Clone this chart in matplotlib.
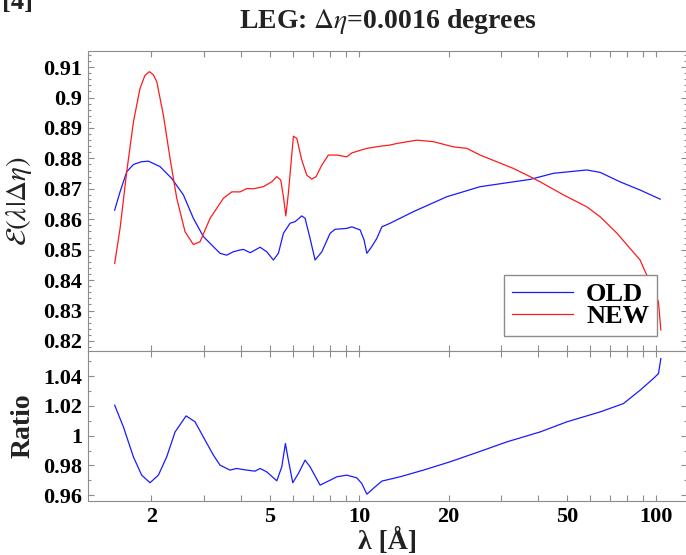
import matplotlib
matplotlib.use('Agg')
import matplotlib.pyplot as plt
from matplotlib.ticker import FixedLocator, FuncFormatter, MultipleLocator, NullLocator

plt.rcParams['font.family'] = ['Liberation Serif', 'DejaVu Serif']
plt.rcParams['mathtext.fontset'] = 'stix'

# OLD efficiency curve
lam_old = [1.504, 1.568, 1.651, 1.739, 1.85, 1.953, 2.138, 2.341, 2.562, 2.768,
           2.991, 3.232, 3.404, 3.585, 3.77, 3.975, 4.079, 4.30, 4.642, 4.889,
           5.146, 5.350, 5.563, 5.858, 6.088, 6.412, 6.58, 6.839, 7.11, 7.49,
           7.99, 8.30, 9.09, 9.45, 10.08, 10.39, 10.62, 11.03, 11.47, 11.93,
           12.72, 15.24, 19.73, 25.55, 33.07, 37.65, 45.1, 58.4, 64.8, 75.6,
           88.3, 103.2]
eff_old = [0.863, 0.869, 0.8756, 0.878, 0.8789, 0.8791, 0.8773, 0.8734, 0.868, 0.8603,
           0.8543, 0.8510, 0.8488, 0.8482, 0.8493, 0.8499, 0.8501, 0.8490, 0.8508, 0.8493,
           0.8466, 0.8488, 0.8554, 0.8587, 0.8592, 0.8611, 0.8603, 0.8537, 0.8466, 0.8493,
           0.8554, 0.8567, 0.857, 0.8575, 0.8565, 0.8532, 0.8488, 0.851, 0.8537, 0.8575,
           0.8587, 0.8625, 0.8674, 0.8707, 0.8723, 0.8731, 0.8751, 0.8762, 0.8754, 0.8723,
           0.8696, 0.8666]

# NEW efficiency curve
lam_new = [1.504, 1.568, 1.651, 1.739, 1.83, 1.90, 1.968, 2.03, 2.084, 2.194,
           2.31, 2.433, 2.595, 2.768, 2.915, 3.15, 3.493, 3.727, 3.975, 4.188,
           4.40, 4.76, 5.08, 5.284, 5.448, 5.563, 5.666, 5.78, 6.01, 6.17,
           6.41, 6.666, 6.93, 7.165, 7.49, 7.88, 8.41, 9.09, 9.45, 10.62,
           11.77, 12.72, 13.39, 15.64, 17.79, 20.77, 23.05, 25.55, 29.08, 33.07,
           37.65, 40.68, 48.75, 58.4, 64.8, 73.8, 81.7, 88.3, 91.8, 97.0,
           101.8, 103.7]
eff_new = [0.8455, 0.857, 0.8756, 0.892, 0.903, 0.9072, 0.9085, 0.9075, 0.9052, 0.8942,
           0.880, 0.8669, 0.8559, 0.8517, 0.8526, 0.8603, 0.8669, 0.869, 0.869, 0.8701,
           0.870, 0.8707, 0.8723, 0.874, 0.8729, 0.8674, 0.8611, 0.8685, 0.8873, 0.8866,
           0.8795, 0.8745, 0.8732, 0.874, 0.8778, 0.8811, 0.8811, 0.8805, 0.8818, 0.8833,
           0.884, 0.8844, 0.8849, 0.886, 0.8855, 0.8838, 0.8833, 0.8811, 0.8789, 0.8767,
           0.874, 0.8723, 0.868, 0.8641, 0.8608, 0.8554, 0.8504, 0.8466, 0.8428, 0.838,
           0.8329, 0.8236]

# ratio panel
lam_ratio = [1.504, 1.609, 1.739, 1.854, 1.978, 2.11, 2.251, 2.402, 2.616, 2.804,
             3.03, 3.232, 3.404, 3.679, 3.87, 4.188, 4.466, 4.642, 4.889, 5.284,
             5.492, 5.648, 5.78, 5.98, 6.25, 6.58, 6.839, 7.39, 7.99, 8.41,
             9.09, 9.82, 10.21, 10.62, 11.17, 11.93, 13.74, 16.46, 20.25, 26.22,
             31.42, 40.68, 50.05, 64.8, 77.6, 88.3, 97.9, 101.8, 103.7]
ratio = [1.0205, 1.0059, 0.9857, 0.9734, 0.9683, 0.9734, 0.9857, 1.0025, 1.0133, 1.0093,
         0.997, 0.9869, 0.9801, 0.9768, 0.9779, 0.9768, 0.9761, 0.9779, 0.9756, 0.9696,
         0.979, 0.9947, 0.9835, 0.9683, 0.9746, 0.9835, 0.979, 0.9667, 0.970, 0.9723,
         0.9734, 0.9716, 0.9678, 0.9606, 0.9645, 0.9694, 0.9723, 0.9768, 0.9824, 0.9902,
         0.9958, 1.0025, 1.0093, 1.016, 1.0216, 1.0306, 1.0385, 1.0418, 1.0519]

x_labelled = [2, 5, 10, 20, 50, 100]
x_ticks = [2, 3, 4, 5, 6, 7, 8, 9, 10, 20, 30, 40, 50, 60, 70, 80, 90, 100]

fig = plt.figure(figsize=(6.86, 5.55), dpi=100)
W, H = 686.0, 555.0
left, right = 88 / W, 687 / W
ax1 = fig.add_axes([left, 1 - 351 / H, right - left, 300 / H])
ax2 = fig.add_axes([left, 1 - 501 / H, right - left, 150 / H], sharex=ax1)

ax1.plot(lam_old, eff_old, color='#1a1aff', lw=0.9, label='OLD')
ax1.plot(lam_new, eff_new, color='#ff1a1a', lw=0.9, label='NEW')
ax2.plot(lam_ratio, ratio, color='#1a1aff', lw=0.9)

gray = '#8c8c8c'
for ax in (ax1, ax2):
    ax.set_xscale('log')
    for s in ax.spines.values():
        s.set_color(gray)
    ax.tick_params(which='both', direction='in', top=True, right=True, color=gray,
                   labelsize=16, pad=4)
    ax.tick_params(which='major', length=4.5, width=0.8)
    ax.tick_params(which='minor', length=2.5, width=0.8)

ax2.set_xlim(1.223, 127)
ax2.xaxis.set_major_locator(FixedLocator(x_ticks))
ax2.xaxis.set_minor_locator(NullLocator())
ax2.xaxis.set_major_formatter(FuncFormatter(
    lambda v, p: f'{v:g}' if round(v) in x_labelled else ''))
ax1.tick_params(axis='x', labelbottom=False)

fmt = FuncFormatter(lambda v, p: f'{round(v, 3):g}')
ax1.set_ylim(0.8167, 0.9153)
ax1.yaxis.set_major_locator(MultipleLocator(0.01))
ax1.yaxis.set_minor_locator(MultipleLocator(0.002))
ax1.yaxis.set_major_formatter(fmt)
ax2.set_ylim(0.956, 1.057)
ax2.yaxis.set_major_locator(MultipleLocator(0.02))
ax2.yaxis.set_minor_locator(MultipleLocator(0.01))
ax2.yaxis.set_major_formatter(fmt)

# bold tick labels
for ax in (ax1, ax2):
    for tick in ax.xaxis.get_major_ticks() + ax.yaxis.get_major_ticks():
        tick.label1.set_fontweight('bold')
        tick.label2.set_fontweight('bold')

ax1.set_ylabel(r'$\mathcal{E}(\lambda|\Delta\eta)$', fontsize=21, color='#222222')
ax2.set_ylabel('Ratio', fontsize=20, fontweight='bold', color='#222222')
ax1.yaxis.set_label_coords(-0.09, 0.5)
ax2.yaxis.set_label_coords(-0.087, 0.5)
ax2.set_xlabel('λ [Å]', fontsize=20, fontweight='bold', labelpad=1, color='#222222')

leg = ax1.legend(loc='lower right', bbox_to_anchor=(0.95, 0.05), borderaxespad=0,
                 fancybox=False, framealpha=1, edgecolor=gray,
                 prop={'size': 19, 'weight': 'bold'},
                 handlelength=2.3, handletextpad=0.5, labelspacing=-0.05,
                 borderpad=0.3)
leg.get_frame().set_linewidth(1.0)

fig.text(388 / W, 1 - 21 / H, r'LEG: $\Delta\eta$=0.0016 degrees', ha='center',
         va='center', fontsize=20, weight='bold', color='#222222')
# partly cut-off panel tag at the very top, as in the original
fig.text(2 / W, 1 - 9 / H, '[4]', ha='left', va='baseline', fontsize=19,
         weight='bold', color='#222222')

fig.savefig('out.png', dpi=100)
